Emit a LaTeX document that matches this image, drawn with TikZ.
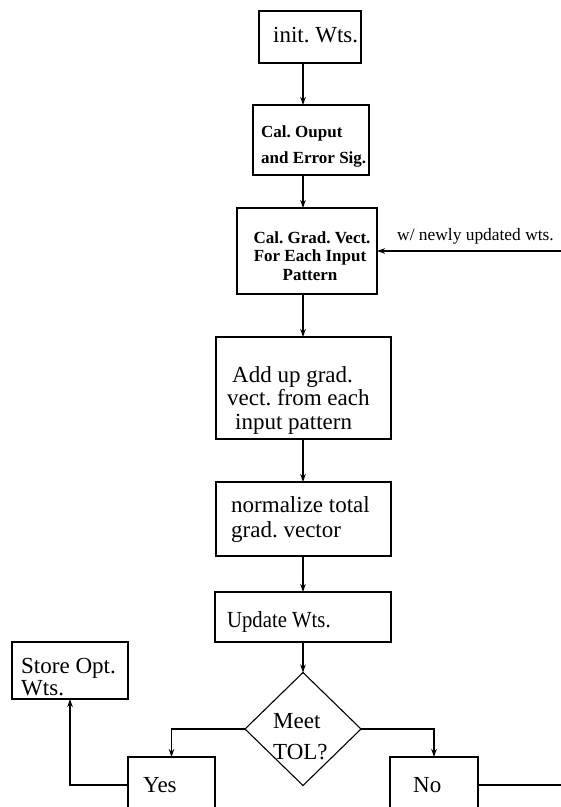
\documentclass[tikz,border=0pt]{standalone}
\usepackage{fontspec}
\setmainfont{Liberation Serif}
\usetikzlibrary{shapes.geometric,arrows.meta}
\frenchspacing

\tikzset{
  box/.style={draw, line width=1.1pt, inner sep=0pt, outer sep=0pt},
  decision/.style={draw, diamond, line width=1.1pt, inner sep=0pt, outer sep=0pt},
  reg/.style={inner sep=0pt, anchor=base west, font=\fontsize{23}{27}\selectfont},
  bld/.style={inner sep=0pt, anchor=base west, font=\fontsize{17}{20}\selectfont\bfseries},
  note/.style={inner sep=0pt, anchor=base west, font=\fontsize{17.4}{20}\selectfont},
  flow/.style={line width=1.1pt, -{Stealth[length=8pt,width=5.5pt]}},
  wire/.style={line width=1.1pt}
}

\begin{document}
\begin{tikzpicture}[x=1pt,y=-1pt]
  \clip (0,0) rectangle (561,807);

  % boxes of the main column
  \node[box, minimum width=102pt, minimum height=52pt] (init) at (310,37) {};
  \node[box, minimum width=116pt, minimum height=70pt] (calout) at (311,140) {};
  \node[box, minimum width=140pt, minimum height=86pt] (calgrad) at (307,251) {};
  \node[box, minimum width=175pt, minimum height=102pt] (addup) at (303.5,388) {};
  \node[box, minimum width=175pt, minimum height=74pt] (norm) at (303.5,519) {};
  \node[box, minimum width=176pt, minimum height=50pt] (update) at (303,617) {};
  \node[decision, minimum width=116pt, minimum height=113pt] (meet) at (303,729) {};
  \node[box, minimum width=116pt, minimum height=57pt] (store) at (70,670.5) {};
  \node[box, minimum width=87pt, minimum height=56pt] (yes) at (171.5,785) {};
  \node[box, minimum width=88pt, minimum height=56pt] (no) at (434,785) {};

  % texts
  \node[reg] (tinit) at (273,42) {init. Wts.};
  \node[bld] (tcal1) at (261,137) {Cal. Ouput};
  \node[bld] (tcal2) at (261,163) {and Error Sig.};
  \node[bld, anchor=base] (tgr1) at (312,243) {Cal. Grad. Vect.};
  \node[bld, anchor=base] (tgr2) at (310,261.5) {For Each Input};
  \node[bld, anchor=base] (tgr3) at (310,280) {Pattern};
  \node[reg] (tadd1) at (232,382) {Add up grad.};
  \node[reg] (tadd2) at (227,405) {vect. from each};
  \node[reg] (tadd3) at (235,429) {input pattern};
  \node[reg] (tnorm1) at (231,512) {normalize total};
  \node[reg] (tnorm2) at (231,537) {grad. vector};
  \node[reg] (tupd) at (227,627) {\scalebox{0.9}[1]{Update Wts.}};
  \node[reg] (tmeet1) at (273,728) {Meet};
  \node[reg] (tmeet2) at (273,759) {TOL?};
  \node[reg] (tstore1) at (21,673) {Store Opt.};
  \node[reg] (tstore2) at (21,695) {Wts.};
  \node[reg] (tyes) at (143,792) {Yes};
  \node[reg] (tno) at (413,792) {No};
  \node[note] (tfb) at (397,240) {w/ newly updated wts.};

  % connectors
  \coordinate (spine) at (303,0);
  \coordinate (fbin) at (561,251);
  \coordinate (noout) at (561,785);
  \draw[flow] (init.south -| spine) -- (calout.north -| spine);
  \draw[flow] (calout.south -| spine) -- (calgrad.north -| spine);
  \draw[flow] (calgrad.south -| spine) -- (addup.north -| spine);
  \draw[flow] (addup.south -| spine) -- (norm.north -| spine);
  \draw[flow] (norm.south -| spine) -- (update.north -| spine);
  \draw[flow] (update.south) -- (meet.north);
  \draw[flow] (fbin) -- (calgrad.east);
  \draw[flow] (meet.west) -| (yes.north);
  \draw[flow] (meet.east) -| (no.north);
  \draw[flow] (yes.west) -| (store.south);
  \draw[wire] (no.east) -- (noout);
\end{tikzpicture}
\end{document}
